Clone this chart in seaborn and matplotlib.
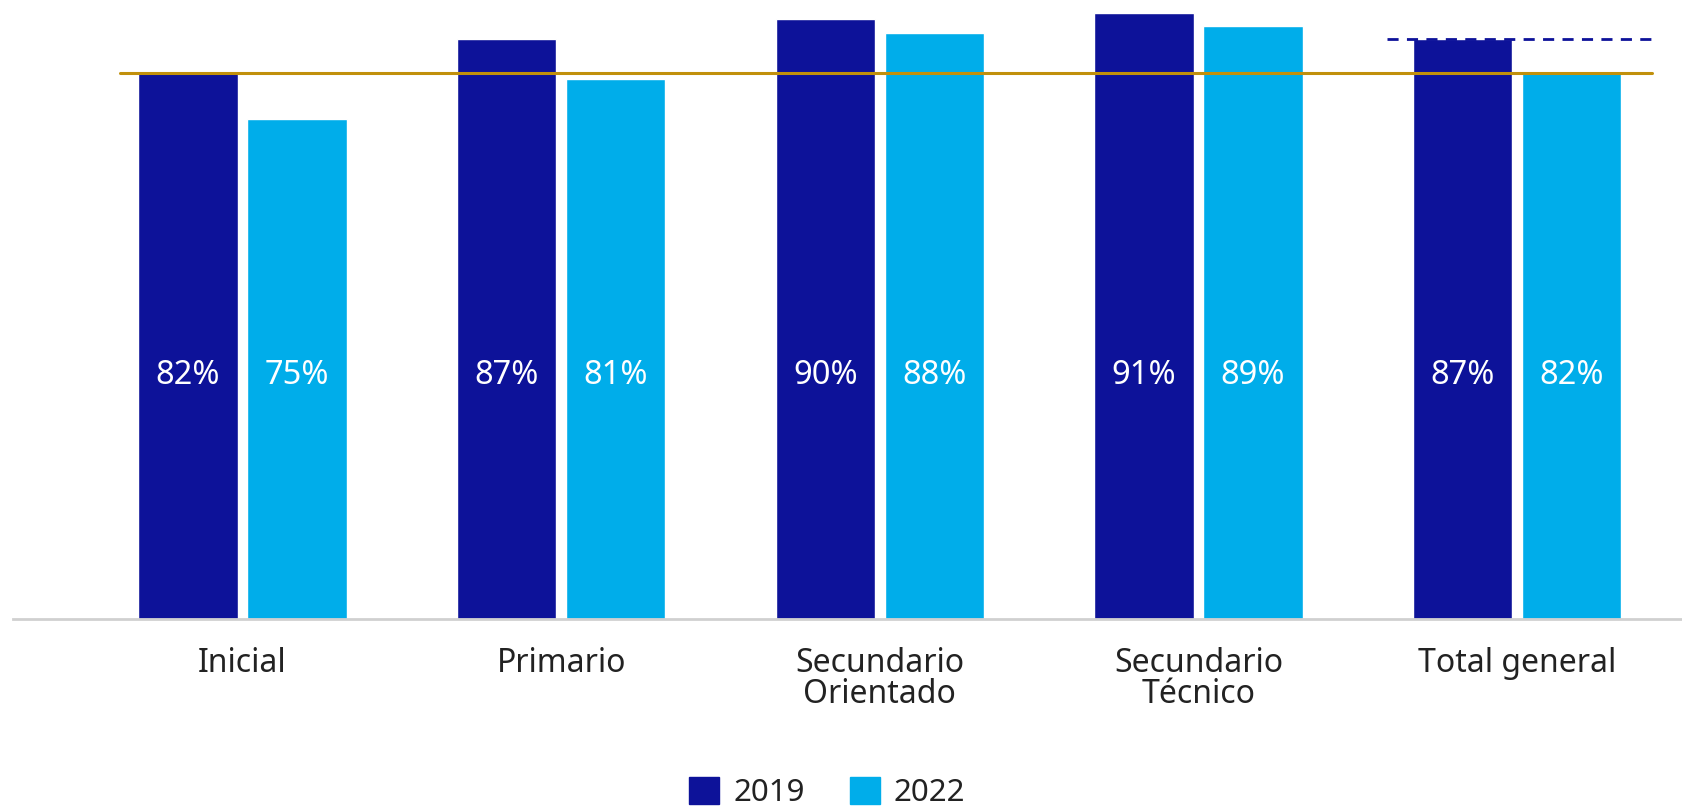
import matplotlib
matplotlib.use("Agg")
import matplotlib.pyplot as plt
import seaborn as sns
import pandas as pd
from matplotlib.patches import Patch

sns.set_theme(style="white")
plt.rcParams['font.family'] = ['Noto Sans', 'DejaVu Sans']

# Data
categories = ["Inicial", "Primario", "Secundario\nOrientado", "Secundario\nTécnico", "Total general"]
years = ["2019", "2022"]
values_2019 = [82, 87, 90, 91, 87]
values_2022 = [75, 81, 88, 89, 82]
colors = {"2019": "#0D1299", "2022": "#00ADEA"}

df = pd.DataFrame({
    "Nivel": categories * 2,
    "Año": ["2019"] * len(categories) + ["2022"] * len(categories),
    "Valor": values_2019 + values_2022,
})

fig = plt.figure(figsize=(16.83, 8.09), dpi=100)
ax = fig.add_axes([0.0077, 0.235, 0.9923, 0.765])

sns.barplot(data=df, x="Nivel", y="Valor", hue="Año", palette=colors,
            width=0.684, gap=0.09, saturation=1, legend=False, ax=ax)

# reference lines: total general values
ax.plot([-0.383, 4.424], [values_2022[-1]] * 2, color="#C1900C", lw=2.2, zorder=3)
ax.plot([3.59, 4.424], [values_2019[-1]] * 2, color="#0D1299", lw=2, ls=(0, (4, 3)), zorder=3)

# value labels inside bars
for container, vals in zip(ax.containers, [values_2019, values_2022]):
    for bar, v in zip(container, vals):
        ax.text(bar.get_x() + bar.get_width() / 2, 36.5, f"{v}%", ha="center", va="center",
                color="white", fontsize=23.5, zorder=4)

ax.set_xlim(-0.72, 4.52)
ax.set_ylim(0, 92.9)
ax.set_xlabel("")
ax.set_ylabel("")
ax.set_yticks([])
ax.tick_params(axis="x", length=0, pad=20, labelsize=23, labelcolor="#222222")
for lbl in ax.get_xticklabels():
    lbl.set_linespacing(0.95)
for s in ["top", "right", "left"]:
    ax.spines[s].set_visible(False)
ax.spines["bottom"].set_color("#D0D0D0")
ax.spines["bottom"].set_linewidth(2)

handles = [Patch(color=colors[y], label=y) for y in years]
fig.legend(handles=handles, loc="center", bbox_to_anchor=(0.4915, 0.02), ncol=2, frameon=False,
           fontsize=22.5, handlelength=0.95, handleheight=0.95, handletextpad=0.45, columnspacing=1.45,
           labelcolor="#222222")

fig.savefig("out.png", dpi=100)
